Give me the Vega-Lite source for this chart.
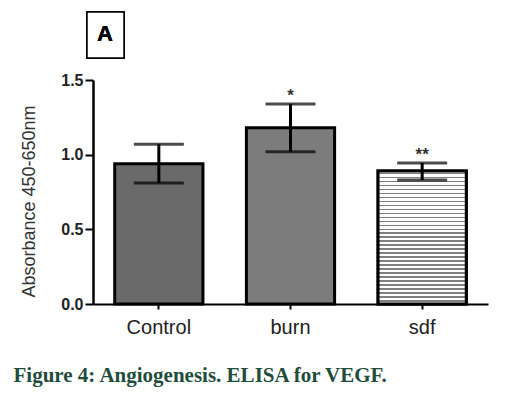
{
  "$schema": "https://vega.github.io/schema/vega-lite/v6.json",
  "width": 395,
  "height": 224,
  "autosize": {"type": "none"},
  "padding": {"left": 93, "top": 80, "right": 18, "bottom": 90},
  "background": "white",
  "config": {"view": {"stroke": null}, "font": "Liberation Sans"},
  "data": {
    "values": [
      {"group": "Control", "mean": 0.94, "low": 0.81, "high": 1.07, "sig": ""},
      {"group": "burn", "mean": 1.18, "low": 1.02, "high": 1.34, "sig": "*"},
      {"group": "sdf", "mean": 0.89, "low": 0.83, "high": 0.945, "sig": "**"}
    ]
  },
  "layer": [
    {
      "encoding": {
        "x": {
          "field": "group",
          "type": "nominal",
          "sort": null,
          "scale": {"paddingInner": 0.33, "paddingOuter": 0.165},
          "axis": {
            "labelAngle": 0,
            "labelFont": "Liberation Sans",
            "labelFontSize": 20,
            "labelColor": "#222222",
            "labelPadding": 8,
            "tickSize": 5,
            "tickWidth": 2,
            "tickColor": "black",
            "domainColor": "black",
            "domainWidth": 2,
            "title": "Figure 4: Angiogenesis. ELISA for VEGF.",
            "titleFont": "Liberation Serif",
            "titleFontWeight": "bold",
            "titleFontSize": 21,
            "titleColor": "#1f4d3c",
            "titleAlign": "left",
            "titleAnchor": "start",
            "titleBaseline": "alphabetic",
            "titleX": -80,
            "titleY": 77
          }
        }
      },
      "layer": [
        {
          "mark": {"type": "bar", "stroke": "black", "strokeWidth": 3},
          "encoding": {
            "y": {
              "field": "mean",
              "type": "quantitative",
              "scale": {"domain": [0, 1.5], "nice": false},
              "axis": {
                "values": [0, 0.5, 1, 1.5],
                "format": ".1f",
                "grid": false,
                "labelFont": "Liberation Sans",
                "labelFontWeight": "bold",
                "labelFontSize": 16,
                "labelColor": "#222222",
                "labelPadding": 2,
                "tickSize": 8,
                "tickWidth": 2,
                "tickColor": "black",
                "domainColor": "black",
                "domainWidth": 2.5,
                "title": "Absorbance 450-650nm",
                "titleFont": "Liberation Sans",
                "titleFontWeight": "normal",
                "titleFontSize": 18,
                "titleColor": "#333333",
                "titleAngle": -90,
                "titleBaseline": "alphabetic",
                "titleAlign": "center",
                "titleX": -59,
                "titleY": 121
              }
            },
            "fill": {
              "field": "group",
              "type": "nominal",
              "scale": {"domain": ["Control", "burn", "sdf"], "range": ["#6a6a6a", "#7c7c7c", "#ffffff"]},
              "legend": null
            }
          }
        },
        {
          "transform": [{"filter": "datum.group === 'sdf'"}],
          "mark": {
            "type": "bar",
            "stroke": "black",
            "strokeWidth": 3,
            "fill": {
              "gradient": "linear", "x1": 0, "y1": 0, "x2": 0, "y2": 1,
              "stops": [
                {"offset": 0, "color": "#ffffff"},
                {"offset": 0.012, "color": "#ffffff"}, {"offset": 0.012, "color": "#808080"}, {"offset": 0.024, "color": "#808080"}, {"offset": 0.024, "color": "#ffffff"},
                {"offset": 0.042, "color": "#ffffff"}, {"offset": 0.042, "color": "#808080"}, {"offset": 0.054, "color": "#808080"}, {"offset": 0.054, "color": "#ffffff"},
                {"offset": 0.072, "color": "#ffffff"}, {"offset": 0.072, "color": "#808080"}, {"offset": 0.084, "color": "#808080"}, {"offset": 0.084, "color": "#ffffff"},
                {"offset": 0.102, "color": "#ffffff"}, {"offset": 0.102, "color": "#808080"}, {"offset": 0.114, "color": "#808080"}, {"offset": 0.114, "color": "#ffffff"},
                {"offset": 0.132, "color": "#ffffff"}, {"offset": 0.132, "color": "#808080"}, {"offset": 0.144, "color": "#808080"}, {"offset": 0.144, "color": "#ffffff"},
                {"offset": 0.162, "color": "#ffffff"}, {"offset": 0.162, "color": "#808080"}, {"offset": 0.174, "color": "#808080"}, {"offset": 0.174, "color": "#ffffff"},
                {"offset": 0.192, "color": "#ffffff"}, {"offset": 0.192, "color": "#808080"}, {"offset": 0.204, "color": "#808080"}, {"offset": 0.204, "color": "#ffffff"},
                {"offset": 0.222, "color": "#ffffff"}, {"offset": 0.222, "color": "#808080"}, {"offset": 0.234, "color": "#808080"}, {"offset": 0.234, "color": "#ffffff"},
                {"offset": 0.252, "color": "#ffffff"}, {"offset": 0.252, "color": "#808080"}, {"offset": 0.264, "color": "#808080"}, {"offset": 0.264, "color": "#ffffff"},
                {"offset": 0.282, "color": "#ffffff"}, {"offset": 0.282, "color": "#808080"}, {"offset": 0.294, "color": "#808080"}, {"offset": 0.294, "color": "#ffffff"},
                {"offset": 0.312, "color": "#ffffff"}, {"offset": 0.312, "color": "#808080"}, {"offset": 0.324, "color": "#808080"}, {"offset": 0.324, "color": "#ffffff"},
                {"offset": 0.342, "color": "#ffffff"}, {"offset": 0.342, "color": "#808080"}, {"offset": 0.354, "color": "#808080"}, {"offset": 0.354, "color": "#ffffff"},
                {"offset": 0.372, "color": "#ffffff"}, {"offset": 0.372, "color": "#808080"}, {"offset": 0.384, "color": "#808080"}, {"offset": 0.384, "color": "#ffffff"},
                {"offset": 0.402, "color": "#ffffff"}, {"offset": 0.402, "color": "#808080"}, {"offset": 0.414, "color": "#808080"}, {"offset": 0.414, "color": "#ffffff"},
                {"offset": 0.432, "color": "#ffffff"}, {"offset": 0.432, "color": "#808080"}, {"offset": 0.444, "color": "#808080"}, {"offset": 0.444, "color": "#ffffff"},
                {"offset": 0.462, "color": "#ffffff"}, {"offset": 0.462, "color": "#808080"}, {"offset": 0.474, "color": "#808080"}, {"offset": 0.474, "color": "#ffffff"},
                {"offset": 0.492, "color": "#ffffff"}, {"offset": 0.492, "color": "#808080"}, {"offset": 0.504, "color": "#808080"}, {"offset": 0.504, "color": "#ffffff"},
                {"offset": 0.522, "color": "#ffffff"}, {"offset": 0.522, "color": "#808080"}, {"offset": 0.534, "color": "#808080"}, {"offset": 0.534, "color": "#ffffff"},
                {"offset": 0.552, "color": "#ffffff"}, {"offset": 0.552, "color": "#808080"}, {"offset": 0.564, "color": "#808080"}, {"offset": 0.564, "color": "#ffffff"},
                {"offset": 0.582, "color": "#ffffff"}, {"offset": 0.582, "color": "#808080"}, {"offset": 0.594, "color": "#808080"}, {"offset": 0.594, "color": "#ffffff"},
                {"offset": 0.612, "color": "#ffffff"}, {"offset": 0.612, "color": "#808080"}, {"offset": 0.624, "color": "#808080"}, {"offset": 0.624, "color": "#ffffff"},
                {"offset": 0.642, "color": "#ffffff"}, {"offset": 0.642, "color": "#808080"}, {"offset": 0.654, "color": "#808080"}, {"offset": 0.654, "color": "#ffffff"},
                {"offset": 0.672, "color": "#ffffff"}, {"offset": 0.672, "color": "#808080"}, {"offset": 0.684, "color": "#808080"}, {"offset": 0.684, "color": "#ffffff"},
                {"offset": 0.702, "color": "#ffffff"}, {"offset": 0.702, "color": "#808080"}, {"offset": 0.714, "color": "#808080"}, {"offset": 0.714, "color": "#ffffff"},
                {"offset": 0.732, "color": "#ffffff"}, {"offset": 0.732, "color": "#808080"}, {"offset": 0.744, "color": "#808080"}, {"offset": 0.744, "color": "#ffffff"},
                {"offset": 0.762, "color": "#ffffff"}, {"offset": 0.762, "color": "#808080"}, {"offset": 0.774, "color": "#808080"}, {"offset": 0.774, "color": "#ffffff"},
                {"offset": 0.792, "color": "#ffffff"}, {"offset": 0.792, "color": "#808080"}, {"offset": 0.804, "color": "#808080"}, {"offset": 0.804, "color": "#ffffff"},
                {"offset": 0.822, "color": "#ffffff"}, {"offset": 0.822, "color": "#808080"}, {"offset": 0.834, "color": "#808080"}, {"offset": 0.834, "color": "#ffffff"},
                {"offset": 0.852, "color": "#ffffff"}, {"offset": 0.852, "color": "#808080"}, {"offset": 0.864, "color": "#808080"}, {"offset": 0.864, "color": "#ffffff"},
                {"offset": 0.882, "color": "#ffffff"}, {"offset": 0.882, "color": "#808080"}, {"offset": 0.894, "color": "#808080"}, {"offset": 0.894, "color": "#ffffff"},
                {"offset": 0.912, "color": "#ffffff"}, {"offset": 0.912, "color": "#808080"}, {"offset": 0.924, "color": "#808080"}, {"offset": 0.924, "color": "#ffffff"},
                {"offset": 0.942, "color": "#ffffff"}, {"offset": 0.942, "color": "#808080"}, {"offset": 0.954, "color": "#808080"}, {"offset": 0.954, "color": "#ffffff"},
                {"offset": 0.972, "color": "#ffffff"}, {"offset": 0.972, "color": "#808080"}, {"offset": 0.984, "color": "#808080"}, {"offset": 0.984, "color": "#ffffff"},
                {"offset": 1, "color": "#ffffff"}
              ]
            }
          },
          "encoding": {
            "y": {"field": "mean", "type": "quantitative"}
          }
        },
        {
          "mark": {"type": "rule", "strokeWidth": 3, "color": "black"},
          "encoding": {
            "y": {"field": "low", "type": "quantitative"},
            "y2": {"field": "high"}
          }
        },
        {
          "mark": {"type": "tick", "thickness": 3, "size": 50, "color": "black"},
          "encoding": {"y": {"field": "high", "type": "quantitative"}}
        },
        {
          "mark": {"type": "tick", "thickness": 3, "size": 50, "color": "black"},
          "encoding": {"y": {"field": "low", "type": "quantitative"}}
        },
        {
          "mark": {"type": "text", "baseline": "alphabetic", "dy": -3, "fontSize": 17, "fontWeight": "bold", "font": "Liberation Sans", "color": "#333333"},
          "encoding": {
            "y": {"field": "high", "type": "quantitative"},
            "text": {"field": "sig"}
          }
        }
      ]
    },
    {
      "layer": [
        {
          "mark": {"type": "rect", "fill": "white", "stroke": "black", "strokeWidth": 1.5},
          "encoding": {
            "x": {"datum": -0.0152, "type": "quantitative", "scale": {"domain": [0, 1], "nice": false, "zero": false}, "axis": null},
            "x2": {"datum": 0.0785},
            "y": {"datum": 1.647, "type": "quantitative"},
            "y2": {"datum": 1.955}
          }
        },
        {
          "mark": {"type": "text", "text": "A", "fontSize": 22, "fontWeight": "bold", "font": "Liberation Sans", "color": "black", "baseline": "middle", "align": "center"},
          "encoding": {
            "x": {"datum": 0.0304, "type": "quantitative"},
            "y": {"datum": 1.808, "type": "quantitative"}
          }
        }
      ]
    }
  ],
  "resolve": {"scale": {"x": "independent"}, "axis": {"x": "independent"}}
}
